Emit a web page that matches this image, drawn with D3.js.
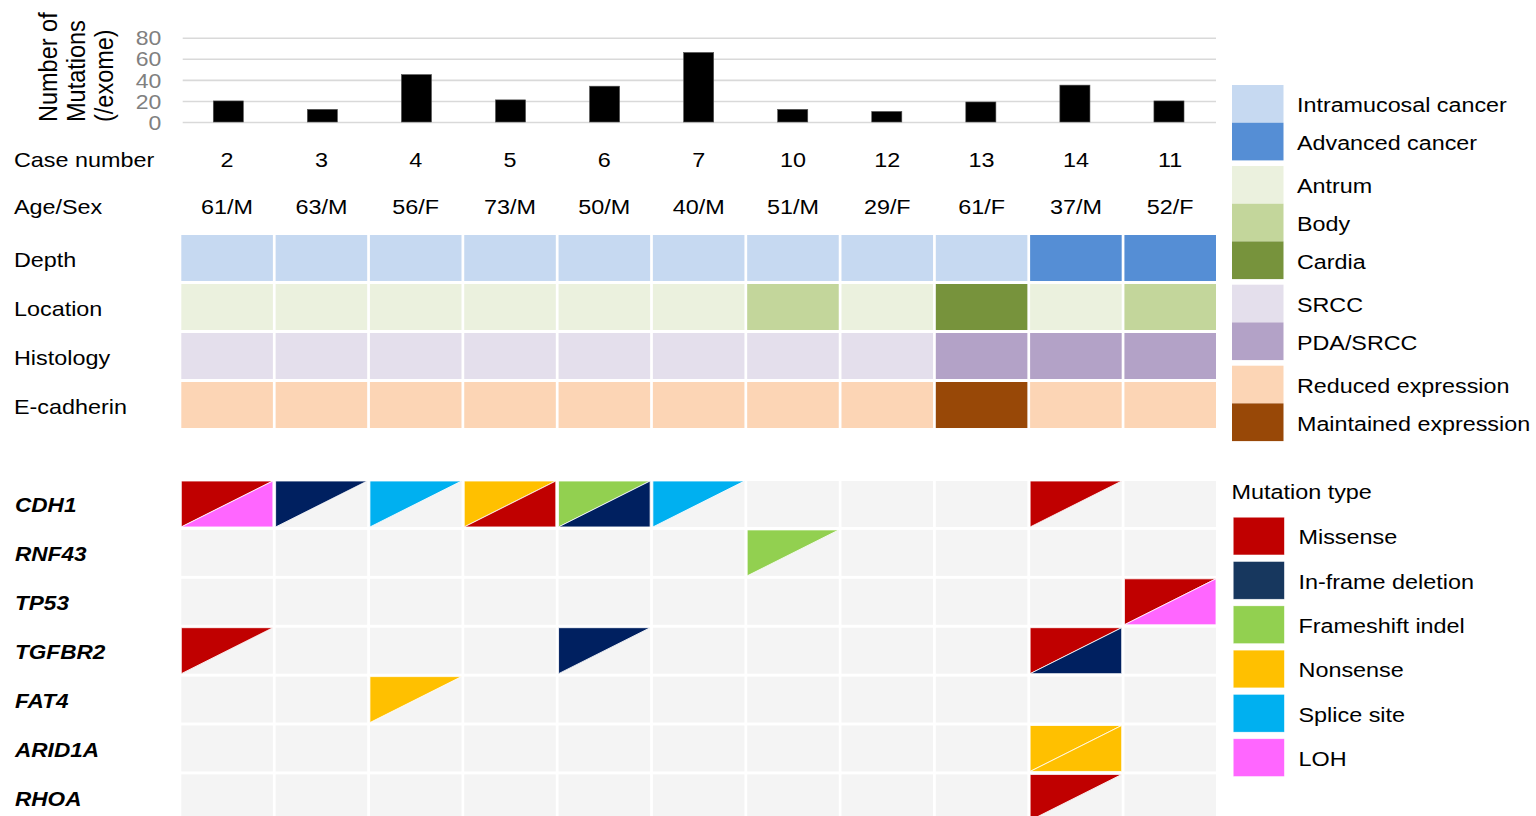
<!DOCTYPE html>
<html>
<head>
<meta charset="utf-8">
<script src="https://cdn.jsdelivr.net/npm/d3@7"></script>
<style>
  body { margin: 0; background: #fff; }
  text { font-family: "Liberation Sans", Arial, sans-serif; }
</style>
</head>
<body>
<div class="content"></div>
<script>
// ---- data ----
var cases = ["2", "3", "4", "5", "6", "7", "10", "12", "13", "14", "11"];
var mutationCounts = [20, 12, 45, 21, 34, 66, 12, 10, 19, 35, 20];
var countTicks = [0, 20, 40, 60, 80];
var ageSex = ["61/M", "63/M", "56/F", "73/M", "50/M", "40/M", "51/M", "29/F", "61/F", "37/M", "52/F"];

var depth = ["Intramucosal cancer", "Intramucosal cancer", "Intramucosal cancer", "Intramucosal cancer",
  "Intramucosal cancer", "Intramucosal cancer", "Intramucosal cancer", "Intramucosal cancer",
  "Intramucosal cancer", "Advanced cancer", "Advanced cancer"];
var location_ = ["Antrum", "Antrum", "Antrum", "Antrum", "Antrum", "Antrum", "Body", "Antrum", "Cardia", "Antrum", "Body"];
var histology = ["SRCC", "SRCC", "SRCC", "SRCC", "SRCC", "SRCC", "SRCC", "SRCC", "PDA/SRCC", "PDA/SRCC", "PDA/SRCC"];
var ecadherin = ["Reduced expression", "Reduced expression", "Reduced expression", "Reduced expression",
  "Reduced expression", "Reduced expression", "Reduced expression", "Reduced expression",
  "Maintained expression", "Reduced expression", "Reduced expression"];
var clinicalRows = ["Depth", "Location", "Histology", "E-cadherin"];

var genes = ["CDH1", "RNF43", "TP53", "TGFBR2", "FAT4", "ARID1A", "RHOA"];
// gene, case, upper-left triangle, lower-right triangle
var mutationCalls = [
  ["CDH1", "2", "Missense", "LOH"],
  ["CDH1", "3", "In-frame deletion", null],
  ["CDH1", "4", "Splice site", null],
  ["CDH1", "5", "Nonsense", "Missense"],
  ["CDH1", "6", "Frameshift indel", "In-frame deletion"],
  ["CDH1", "7", "Splice site", null],
  ["CDH1", "14", "Missense", null],
  ["RNF43", "10", "Frameshift indel", null],
  ["TP53", "11", "Missense", "LOH"],
  ["TGFBR2", "2", "Missense", null],
  ["TGFBR2", "6", "In-frame deletion", null],
  ["TGFBR2", "14", "Missense", "In-frame deletion"],
  ["FAT4", "4", "Nonsense", null],
  ["ARID1A", "14", "Nonsense", "Nonsense"],
  ["RHOA", "14", "Missense", null]
];

var clinicalLegend = [
  ["Intramucosal cancer", "Advanced cancer"],
  ["Antrum", "Body", "Cardia"],
  ["SRCC", "PDA/SRCC"],
  ["Reduced expression", "Maintained expression"]
];
var clinicalColors = {
  "Intramucosal cancer": "#c6d9f1", "Advanced cancer": "#558ed5",
  "Antrum": "#ebf1de", "Body": "#c3d69b", "Cardia": "#77933c",
  "SRCC": "#e4dfec", "PDA/SRCC": "#b3a2c7",
  "Reduced expression": "#fcd5b5", "Maintained expression": "#984807"
};
var mutationTypes = ["Missense", "In-frame deletion", "Frameshift indel", "Nonsense", "Splice site", "LOH"];
var mutationColors = ["#c00000", "#002060", "#92d050", "#ffc000", "#00b0f0", "#ff66ff"];
var mutationLegendColors = ["#c00000", "#17375e", "#92d050", "#ffc000", "#00b0f0", "#ff66ff"];

// ---- layout ----
var svgWidth = 1536;
var svgHeight = 816;

var svg = d3.select(".content")
  .append("svg")
  .attr("width", svgWidth)
  .attr("height", svgHeight);

// the original figure is stretched a little horizontally, so text gets a x-scale
function addText(parent, x, y, str, size, sx) {
  return parent.append("text")
    .attr("transform", `translate(${x},${y}) scale(${sx},1)`)
    .style("font-size", size + "px")
    .text(str);
}

var x = d3.scaleBand()
  .domain(cases)
  .range([181.3, 1216])
  .paddingInner(0.029);

var xBar = d3.scaleBand()
  .domain(cases)
  .range([181.3, 1216])
  .paddingInner(0.68)
  .paddingOuter(0.34);

var mutColor = d3.scaleOrdinal().domain(mutationTypes).range(mutationColors);

// ---- bar chart ----
var yBar = d3.scaleLinear().domain([0, 80]).range([122, 37.7]);

var tickSx = 1.15;
var yAxis = svg.append("g")
  .attr("transform", "translate(182.7,0)")
  .call(d3.axisLeft(yBar).tickValues(countTicks).tickSize(-(1216 - 182.7)).tickPadding(21.5));
yAxis.select(".domain").remove();
yAxis.selectAll("line").attr("stroke", "#d9d9d9").attr("stroke-width", 1.6);
yAxis.selectAll("text")
  .attr("x", -21.5 / tickSx)
  .attr("dy", "0.36em")
  .attr("transform", `scale(${tickSx},1)`)
  .attr("fill", "#808080")
  .style("font-size", "20px")
  .style("font-family", "'Liberation Sans', Arial, sans-serif");

svg.append("g").selectAll("rect")
  .data(cases)
  .enter()
  .append("rect")
  .attr("x", d => xBar(d))
  .attr("width", xBar.bandwidth())
  .attr("y", (d, i) => yBar(mutationCounts[i]))
  .attr("height", (d, i) => yBar(0) - yBar(mutationCounts[i]))
  .attr("fill", "#000")
  .attr("stroke", "#555")
  .attr("stroke-width", 0.6);

var titleLines = ["Number of", "Mutations", "(/exome)"];
titleLines.forEach(function(t, i) {
  svg.append("text")
    .attr("transform", `translate(${57 + i * 28},122) scale(1.12,1) rotate(-90)`)
    .attr("text-anchor", "start")
    .style("font-size", "23.5px")
    .text(t);
});

// ---- case number / age-sex rows ----
var labelSize = 20.5, labelSx = 1.14;

addText(svg, 14, 166.5, "Case number", labelSize, labelSx);
cases.forEach(function(c, i) {
  addText(svg, x(c) + x.bandwidth() / 2, 166.5, c, labelSize, labelSx).attr("text-anchor", "middle");
});

addText(svg, 14, 214, "Age/Sex", labelSize, labelSx);
cases.forEach(function(c, i) {
  addText(svg, x(c) + x.bandwidth() / 2, 214, ageSex[i], labelSize, labelSx).attr("text-anchor", "middle");
});

// ---- clinical heatmap ----
var yClin = d3.scaleBand()
  .domain(clinicalRows)
  .range([235, 235 + 49 * (4 - 0.061)])
  .paddingInner(0.061);

var clinicalValues = [depth, location_, histology, ecadherin];
clinicalRows.forEach(function(row, r) {
  addText(svg, 14, yClin(row) + yClin.bandwidth() / 2 + 9.3, row, labelSize, labelSx);
  svg.append("g").selectAll("rect")
    .data(cases)
    .enter()
    .append("rect")
    .attr("x", d => x(d))
    .attr("y", yClin(row))
    .attr("width", x.bandwidth())
    .attr("height", yClin.bandwidth())
    .attr("fill", (d, i) => clinicalColors[clinicalValues[r][i]]);
});

// ---- mutation grid ----
var yGene = d3.scaleBand()
  .domain(genes)
  .range([481, 481 + 48.9 * (genes.length - 0.06)])
  .paddingInner(0.06);

genes.forEach(function(g) {
  addText(svg, 15, yGene(g) + yGene.bandwidth() / 2 + 8.5, g, 20, 1.13)
    .style("font-weight", "bold")
    .style("font-style", "italic");
  svg.append("g").selectAll("rect")
    .data(cases)
    .enter()
    .append("rect")
    .attr("x", d => x(d))
    .attr("y", yGene(g))
    .attr("width", x.bandwidth())
    .attr("height", yGene.bandwidth())
    .attr("fill", "#f4f4f4");
});

var triGroup = svg.append("g");
mutationCalls.forEach(function(m) {
  var x0 = x(m[1]), x1 = x0 + x.bandwidth();
  var y0 = yGene(m[0]), y1 = y0 + yGene.bandwidth();
  if (m[2]) {
    triGroup.append("path")
      .attr("d", `M${x0},${y0}L${x1},${y0}L${x0},${y1}Z`)
      .attr("fill", mutColor(m[2]))
      .attr("stroke", "#fff")
      .attr("stroke-width", 0.8);
  }
  if (m[3]) {
    triGroup.append("path")
      .attr("d", `M${x1},${y0}L${x1},${y1}L${x0},${y1}Z`)
      .attr("fill", mutColor(m[3]))
      .attr("stroke", "#fff")
      .attr("stroke-width", 0.8);
  }
});

// ---- clinical legend ----
var legY = 85;
var itemH = 37.7;
clinicalLegend.forEach(function(group, gi) {
  group.forEach(function(label) {
    svg.append("rect")
      .attr("x", 1232)
      .attr("y", legY)
      .attr("width", 51.5)
      .attr("height", itemH)
      .attr("fill", clinicalColors[label]);
    addText(svg, 1297, legY + itemH / 2 + 8.5, label, 21, 1.11);
    legY += itemH;
  });
  legY += 5.6;
});

// ---- mutation legend ----
addText(svg, 1231.5, 499, "Mutation type", 19.5, 1.2);

mutationTypes.forEach(function(t, i) {
  var yy = 517.3 + i * 44.3;
  svg.append("rect")
    .attr("x", 1233.3)
    .attr("y", yy)
    .attr("width", 51)
    .attr("height", 37.6)
    .attr("fill", mutationLegendColors[i])
    .attr("stroke", "#fff")
    .attr("stroke-opacity", 0.5)
    .attr("stroke-width", 0.6);
  addText(svg, 1298.5, yy + 37.6 / 2 + 8.3, t, 19.5, 1.2);
});
</script>
</body>
</html>
